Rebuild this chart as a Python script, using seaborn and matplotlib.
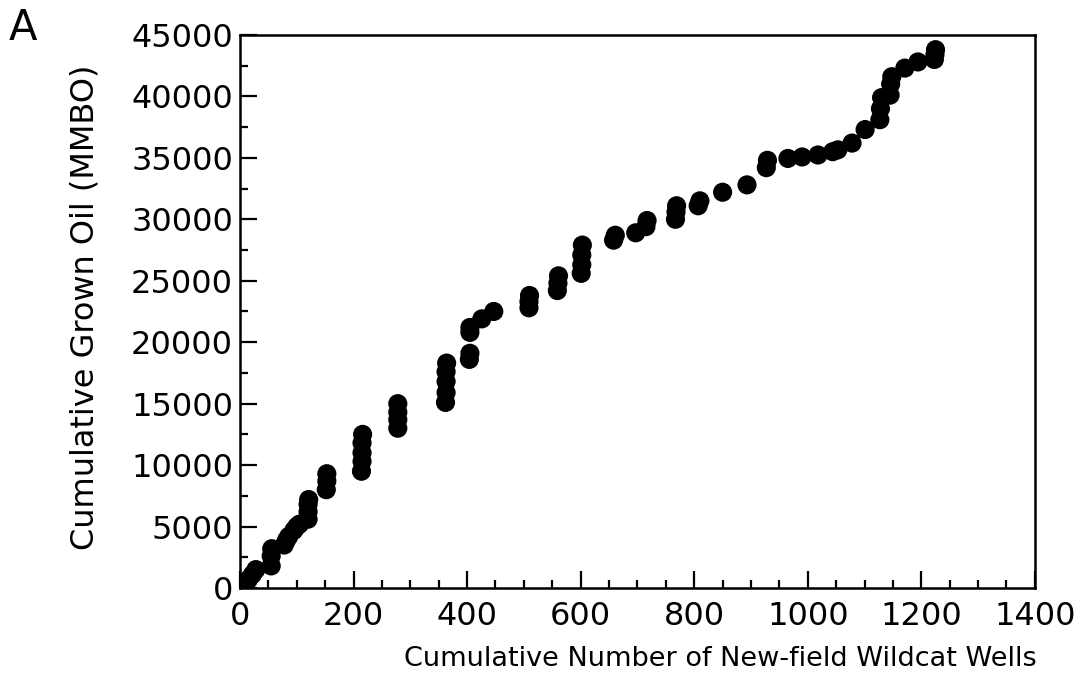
import matplotlib.pyplot as plt
import matplotlib.ticker as mticker
import pandas as pd
import seaborn as sns

sns.set_theme(style="ticks")
plt.rcParams["font.family"] = ["DejaVu Sans"]

# cumulative new-field wildcat wells vs cumulative grown oil (MMBO)
wells = [5, 10, 15, 22, 28,
         55, 55, 56,
         78, 82, 86,
         95, 100, 105,
         120, 120, 120, 121,
         152, 153, 153,
         214, 215, 215, 215, 216,
         278, 278, 278, 278,
         362, 363, 363, 363, 364,
         404, 405, 405, 405,
         426, 447,
         509, 509, 510,
         559, 560, 561,
         601, 602, 602, 603,
         658, 661,
         697,
         715, 717,
         767, 768, 769,
         807, 810,
         850,
         893,
         927, 929,
         965, 990, 1018, 1044, 1053, 1078, 1101,
         1127, 1128, 1130,
         1145, 1146, 1148,
         1171, 1194,
         1223, 1224, 1225]
oil = [100, 400, 700, 1100, 1500,
       1800, 2600, 3200,
       3500, 3900, 4200,
       4700, 5000, 5200,
       5600, 6200, 6800, 7200,
       8000, 8700, 9300,
       9500, 10300, 11000, 11800, 12500,
       13000, 13700, 14300, 15000,
       15100, 15900, 16800, 17600, 18300,
       18600, 19100, 20800, 21200,
       21900, 22500,
       22800, 23300, 23800,
       24200, 24800, 25400,
       25600, 26300, 27100, 27900,
       28300, 28700,
       28900,
       29400, 29900,
       30000, 30600, 31100,
       31100, 31500,
       32200,
       32800,
       34200, 34800,
       34950, 35070, 35230, 35500, 35650, 36200, 37300,
       38100, 39000, 39900,
       40100, 41000, 41600,
       42300, 42800,
       43000, 43400, 43800]

df = pd.DataFrame({"wells": wells, "oil": oil})

fig = plt.figure(figsize=(10.78, 6.94), dpi=100)
ax = fig.add_axes([0.2226, 0.1527, 0.7374, 0.797])

sns.scatterplot(data=df, x="wells", y="oil", ax=ax, s=190, color="black",
                edgecolor="none", linewidth=0, zorder=3)

ax.set_xlim(0, 1400)
ax.set_ylim(0, 45000)
ax.xaxis.set_major_locator(mticker.MultipleLocator(200))
ax.xaxis.set_minor_locator(mticker.MultipleLocator(50))
ax.yaxis.set_major_locator(mticker.MultipleLocator(5000))
ax.yaxis.set_minor_locator(mticker.MultipleLocator(2500))
ax.tick_params(which="both", direction="in", top=False, right=False,
               color="black", width=1.6, labelsize=23, labelcolor="black")
ax.tick_params(which="major", length=12)
ax.tick_params(which="minor", length=6)
ax.tick_params(axis="x", which="major", pad=9)
ax.tick_params(axis="y", which="major", pad=5)
for sp in ax.spines.values():
    sp.set_visible(True)
    sp.set_color("black")
    sp.set_linewidth(1.8)

ax.set_xlabel("Cumulative Number of New-field Wildcat Wells", fontsize=19.5,
              color="black", va="center")
ax.xaxis.set_label_coords(0.604, -0.128)
ax.set_ylabel("Cumulative Grown Oil (MMBO)", fontsize=23, color="black",
              va="center")
ax.yaxis.set_label_coords(-0.195, 0.507)
fig.text(0.008, 0.99, "A", fontsize=30, va="top", ha="left", color="black")

fig.savefig("out.png", dpi=100, facecolor="white")
